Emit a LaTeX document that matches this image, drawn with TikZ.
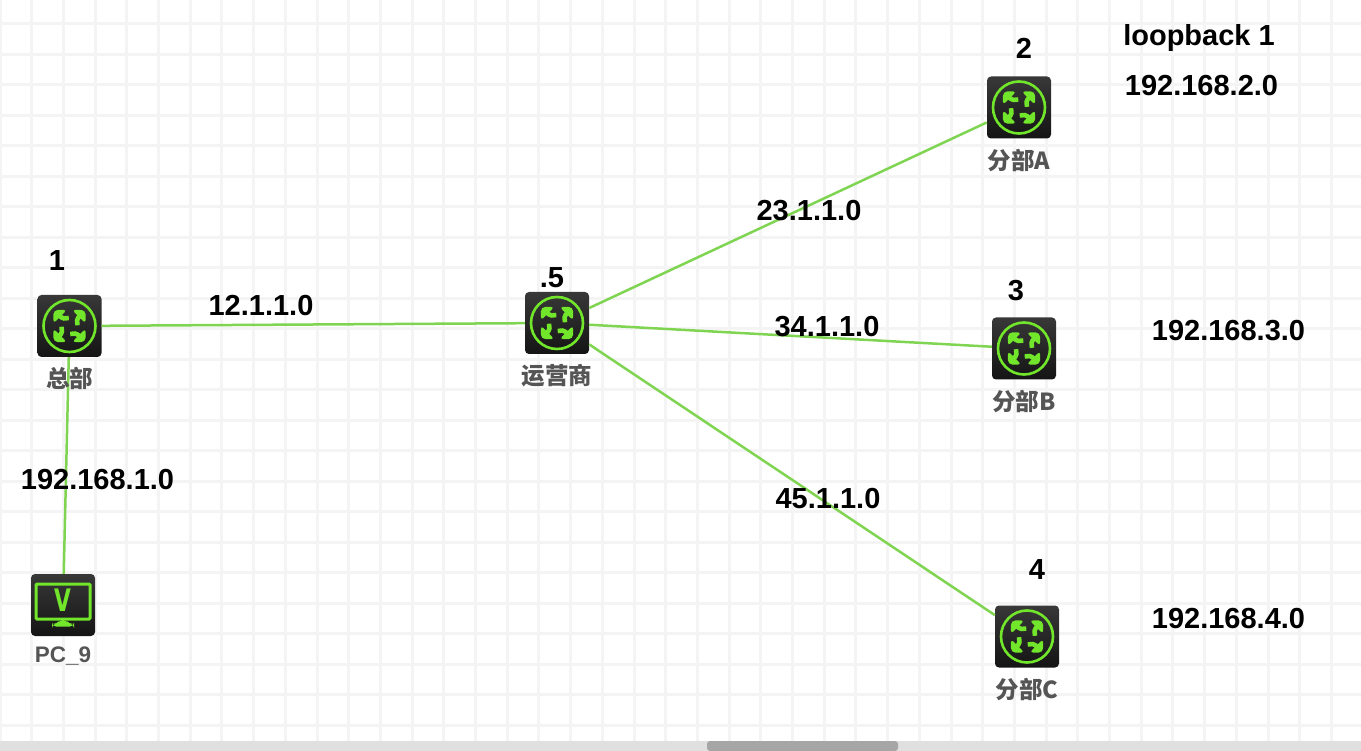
\documentclass[tikz,border=0pt]{standalone}
\usepackage{fontspec}
\setmainfont{Liberation Sans}
\newfontfamily\cjk{Noto Sans CJK SC}
\newfontfamily\iconfont{DejaVu Sans}
\usepackage{xcolor}
\usepackage{tikz}
\usetikzlibrary{arrows.meta, positioning, calc}
\definecolor{gridgray}{HTML}{F4F4F4}
\definecolor{linkgreen}{HTML}{7FD452}
\definecolor{icongreen}{HTML}{72E62A}
\definecolor{namegray}{HTML}{555555}

\begin{document}
\begin{tikzpicture}[
  x=1pt, y=-1pt,
  device/.style={rounded corners=4pt, minimum width=64pt, minimum height=62pt, inner sep=0pt, top color=black!78, bottom color=black!92},
  router/.style={device, path picture={
    \begin{scope}[shift={(path picture bounding box.center)}]
      \draw[icongreen, line width=2.6pt] (0,0) circle (26pt);
      \foreach \spoke in {45,135,225,315} {
        \fill[icongreen] (\spoke:22.5) -- (\spoke-37:16.4) -- (\spoke+37:16.4) -- cycle;
        \draw[icongreen, line width=4.6pt] (\spoke:15) .. controls (\spoke:10) and (\spoke+15:8) .. (\spoke+40:8);
      }
    \end{scope}}},
  monitor/.style={device, path picture={
    \begin{scope}[shift={(path picture bounding box.center)}]
      \draw[icongreen, line width=3pt, rounded corners=1pt] (-27,-21) rectangle (27,14);
      \fill[icongreen] (-3,15) -- (3,15) -- (6,19) -- (11,19) -- (11,21.5) -- (-11,21.5) -- (-11,19) -- (-6,19) -- cycle;
      \node[icongreen, font=\iconfont\bfseries\fontsize{31}{31}\selectfont, inner sep=0pt, xscale=0.7] (vmark) at (0,-5) {V};
    \end{scope}}},
  link/.style={linkgreen, line width=2.5pt},
  devname/.style={font=\cjk\bfseries\fontsize{23.5}{23.5}\selectfont, text=namegray, inner sep=0pt},
  netlabel/.style={font=\bfseries\fontsize{29}{29}\selectfont, inner sep=0pt}
]
\useasboundingbox (0,0) rectangle (1361,751);
\foreach \gx in {0,...,42} \draw[gridgray, line width=3pt] (31.7*\gx,0) -- (31.7*\gx,741);
\foreach \gy in {0,...,23} \draw[gridgray, line width=3pt] (0,24+30.48*\gy) -- (1361,24+30.48*\gy);

\node[router] (hq) at (69.5,326) {};
\node[router] (isp) at (557,323) {};
\node[router] (brancha) at (1019,107.5) {};
\node[router] (branchb) at (1024,348.5) {};
\node[router] (branchc) at (1027,636.5) {};
\node[monitor] (pc) at (63,605) {};

\draw[link] (hq) -- (pc);
\draw[link] (hq) -- (isp);
\draw[link] (isp) -- (brancha);
\draw[link] (isp) -- (branchb);
\draw[link] (isp) -- (branchc);

\node[devname, below=10pt of hq] (hqname) {总部};
\node[devname, below=10pt of isp] (ispname) {运营商};
\node[devname, below=10pt of brancha] (branchaname) {分部A};
\node[devname, below=10pt of branchb] (branchbname) {分部B};
\node[devname, below=10pt of branchc] (branchcname) {分部C};
\node[devname, font=\bfseries\fontsize{22.5}{22.5}\selectfont, below=10pt of pc] (pcname) {PC\_9};

\node[netlabel] (hqnum) at (57,261) {1};
\node[netlabel] (ispnum) at (552,278) {.5};
\node[netlabel] (anum) at (1024,48) {2};
\node[netlabel] (bnum) at (1016,291) {3};
\node[netlabel] (cnum) at (1037,570) {4};

\node[netlabel] (hqisp) at (261,305.5) {12.1.1.0};
\node[netlabel] (ispa) at (809,210.5) {23.1.1.0};
\node[netlabel] (ispb) at (827,326.5) {34.1.1.0};
\node[netlabel] (ispc) at (828,498.5) {45.1.1.0};
\node[netlabel] (lan) at (97.5,479.5) {192.168.1.0};
\node[netlabel] (loop) at (1199,38.5) {loopback 1};
\node[netlabel] (loopa) at (1201.5,86) {192.168.2.0};
\node[netlabel] (loopb) at (1228.5,331) {192.168.3.0};
\node[netlabel] (loopc) at (1228.5,619) {192.168.4.0};

\fill[black!12] (0,741) rectangle (1361,751);
\fill[black!35, rounded corners=3pt] (707,741) rectangle (898,751);
\end{tikzpicture}
\end{document}
